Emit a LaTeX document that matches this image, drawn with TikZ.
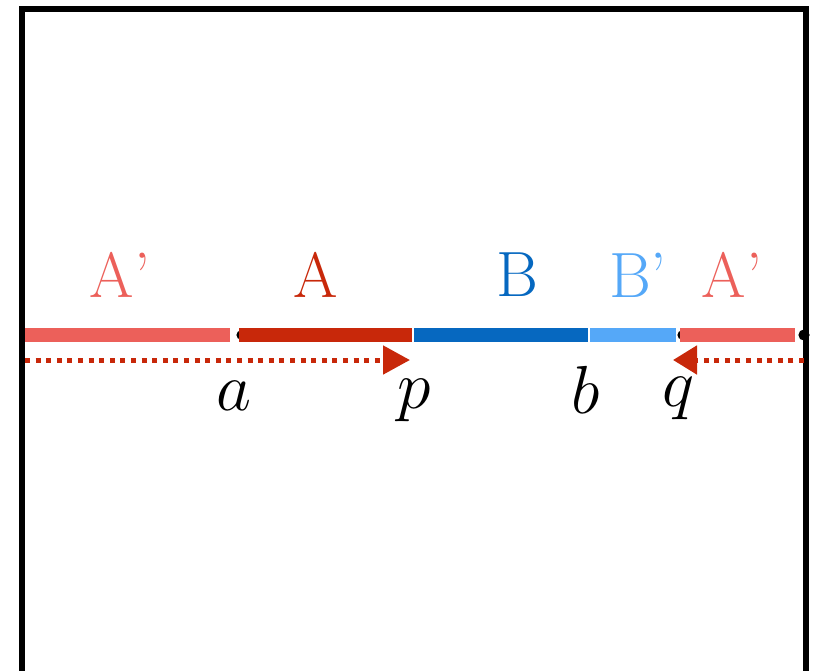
\documentclass[tikz,border=0pt]{standalone}
\usepackage{fix-cm}
\definecolor{SegRed}{RGB}{236,96,90}
\definecolor{DeepRed}{RGB}{200,40,10}
\definecolor{DeepBlue}{RGB}{6,104,192}
\definecolor{SkyBlue}{RGB}{85,168,248}
\usepackage{tikz}
\usetikzlibrary{arrows.meta, positioning}
\usepackage{amsmath, amssymb}

\begin{document}
\begin{tikzpicture}[x=0.5pt, y=-0.5pt]
      \useasboundingbox (0,0) rectangle (820,670);
      \clip (0,0) rectangle (820,670);

      % frame
      \draw[line width=2.6pt] (22,9) rectangle (806,720);

      % end points on the line
      \fill (241,335) circle (2.3pt);
      \fill (682,335) circle (2.3pt);

      % segments
      \draw[SegRed, line width=7pt] (25,335) -- (230,335);
      \draw[DeepRed, line width=7pt] (239,335) -- (412,335);
      \draw[DeepBlue, line width=7pt] (414,335) -- (588,335);
      \draw[SkyBlue, line width=7pt] (590,335) -- (676,335);
      \draw[SegRed, line width=7pt] (680,335) -- (795,335);
      \fill (804,335) circle (2.8pt);

      % segment names
      \node[font=\fontsize{32}{38}\selectfont, SegRed] (lA1) at (120,275) {A’};
      \node[font=\fontsize{32}{38}\selectfont, DeepRed] (lA) at (316,275) {A};
      \node[font=\fontsize{32}{38}\selectfont, DeepBlue] (lB) at (517,275) {B};
      \node[font=\fontsize{32}{38}\selectfont, SkyBlue] (lB1) at (638,275) {B’};
      \node[font=\fontsize{32}{38}\selectfont, SegRed] (lA2) at (732,275) {A’};

      % dotted arrows
      \coordinate (west) at (25,360);
      \coordinate (east) at (804,360);
      \coordinate (ptip) at (410,360);
      \coordinate (qtip) at (673,360);
      \draw[DeepRed, line width=2.5pt, dash pattern=on 2.5pt off 2.8pt,
            -{Triangle[length=13.5pt, width=14pt]}] (west) -- (ptip);
      \draw[DeepRed, line width=2.5pt, dash pattern=on 2.5pt off 2.8pt,
            -{Triangle[length=12pt, width=14pt]}] (east) -- (qtip);

      % point names
      \node[font=\fontsize{34}{40}\selectfont, anchor=base] (a) at (234,410) {$a$};
      \node[font=\fontsize{34}{40}\selectfont, anchor=base] (p) at (414,408) {$p$};
      \node[font=\fontsize{34}{40}\selectfont, anchor=base] (b) at (586,413) {$b$};
      \node[font=\fontsize{34}{40}\selectfont, anchor=base] (q) at (678,406) {$q$};

    \end{tikzpicture}
\end{document}
